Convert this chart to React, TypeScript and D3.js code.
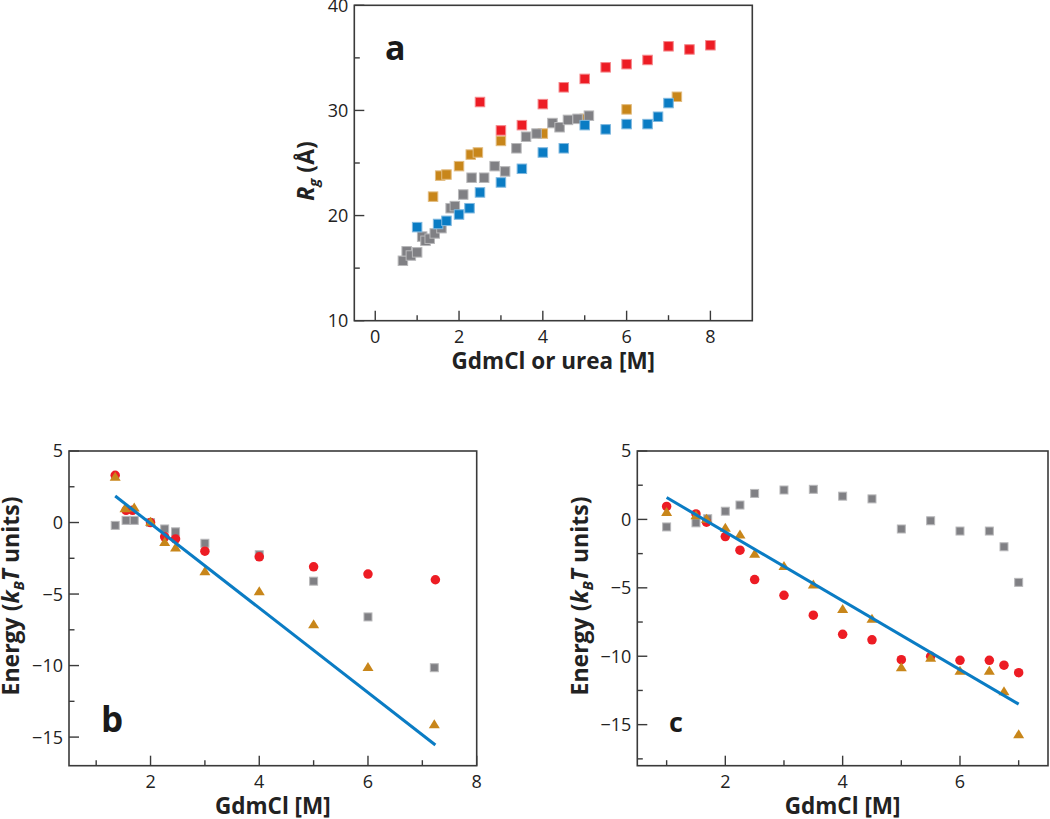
import React from 'react';
import * as d3 from 'd3';

type Pt = [number, number];

// ---------- Panel a: Rg vs denaturant ----------
const aOrange: Pt[] = [[1.38, 21.8], [1.55, 23.8], [1.7, 23.9], [2.0, 24.7], [2.28, 25.8], [2.45, 26.0], [3.0, 27.1], [4.0, 27.8], [5.0, 29.2], [6.0, 30.1], [7.2, 31.3]];
const aGray: Pt[] = [[0.66, 15.7], [0.75, 16.6], [0.85, 16.2], [1.0, 16.5], [1.12, 18.0], [1.2, 17.6], [1.3, 17.8], [1.42, 18.3], [1.58, 18.8], [1.8, 20.7], [1.9, 20.9], [2.1, 22.0], [2.3, 23.6], [2.6, 23.6], [2.85, 24.7], [3.1, 24.2], [3.37, 26.4], [3.6, 27.5], [3.85, 27.8], [4.23, 28.8], [4.4, 28.4], [4.6, 29.1], [4.83, 29.2], [5.1, 29.5]];
const aBlue: Pt[] = [[1.0, 18.9], [1.5, 19.2], [1.7, 19.5], [2.0, 20.1], [2.25, 20.7], [2.5, 22.2], [3.0, 23.15], [3.5, 24.45], [4.0, 26.0], [4.5, 26.4], [5.0, 28.6], [5.5, 28.2], [6.0, 28.7], [6.5, 28.7], [6.75, 29.4], [7.0, 30.7]];
const aRed: Pt[] = [[2.5, 30.8], [3, 28.1], [3.5, 28.6], [4, 30.6], [4.5, 32.2], [5, 33.0], [5.5, 34.1], [6, 34.4], [6.5, 34.8], [7, 36.1], [7.5, 35.8], [8, 36.2]];
const aXMajor = [0, 2, 4, 6, 8];
const aXMinor = [1, 3, 5, 7];
const aYMajor = [10, 20, 30, 40];
const aYMinor = [15, 25, 35];

// ---------- Panel b ----------
const bGray: Pt[] = [[1.35, -0.2], [1.55, 0.15], [1.7, 0.15], [2, 0], [2.26, -0.45], [2.46, -0.65], [3, -1.45], [4, -2.25], [5, -4.1], [6, -6.6], [7.22, -10.15]];
const bRed: Pt[] = [[1.35, 3.3], [1.55, 0.85], [1.67, 0.85], [2, 0], [2.26, -1.0], [2.46, -1.15], [3, -2.0], [4, -2.4], [5, -3.1], [6, -3.6], [7.24, -4.0]];
const bOrange: Pt[] = [[1.35, 3.2], [1.53, 1.0], [1.7, 1.05], [2, 0.05], [2.26, -1.35], [2.46, -1.75], [3, -3.4], [4, -4.8], [5, -7.1], [6, -10.1], [7.22, -14.1]];
const bFit: Pt[] = [[1.35, 1.85], [7.24, -15.55]];
const bXMajor = [2, 4, 6, 8];
const bXMinor = [1, 3, 5, 7];
const bYMajor = [5, 0, -5, -10, -15];
const bYMinor = [2.5, -2.5, -7.5, -12.5];

// ---------- Panel c ----------
const cGray: Pt[] = [[1, -0.55], [1.5, -0.25], [1.7, 0.05], [2, 0.6], [2.25, 1.05], [2.5, 1.9], [3, 2.15], [3.5, 2.2], [4, 1.7], [4.5, 1.5], [5, -0.7], [5.5, -0.1], [6, -0.85], [6.5, -0.85], [6.75, -2.0], [7, -4.6]];
const cRed: Pt[] = [[1, 0.95], [1.5, 0.4], [1.68, -0.2], [2, -1.25], [2.25, -2.25], [2.5, -4.4], [3, -5.55], [3.5, -7.0], [4, -8.4], [4.5, -8.8], [5, -10.25], [5.5, -10.0], [6, -10.3], [6.5, -10.3], [6.75, -10.65], [7, -11.2]];
const cOrange: Pt[] = [[1, 0.55], [1.5, 0.3], [1.68, 0.05], [2, -0.6], [2.25, -1.1], [2.5, -2.5], [3, -3.4], [3.5, -4.75], [4, -6.55], [4.5, -7.25], [5, -10.8], [5.5, -10.1], [6, -11.05], [6.5, -11.05], [6.75, -12.55], [7, -15.7]];
const cFit: Pt[] = [[1, 1.6], [7, -13.5]];
const cXMajor = [2, 4, 6];
const cXMinor = [1, 3, 5, 7];
const cYMajor = [5, 0, -5, -10, -15];
const cYMinor = [2.5, -2.5, -7.5, -12.5, -17.5];

const RED = '#ED1C24';
const ORANGE = '#C8861A';
const GRAY = '#808084';
const BLUE = '#0A7CC4';
const FRAME = '#3a3a3a';
const FONT = '"Open Sans", "DejaVu Sans", sans-serif';

type Series = { data: Pt[]; color: string; edge: string; shape: 'square' | 'circle' | 'triangle'; size: number };

type PanelProps = {
  box: { x0: number; y0: number; x1: number; y1: number };
  xDomain: [number, number];
  yDomain: [number, number];
  xMajor: number[];
  xMinor: number[];
  yMajor: number[];
  yMinor: number[];
  series: Series[];
  fit?: Pt[];
  label: string;
  labelPos: [number, number];
  labelSize: number;
  xTitle: React.ReactNode;
  yTitle: React.ReactNode;
  yTitleX: number;
  yTitleY: number;
};

const fmt = (v: number) => (v < 0 ? '\u2212' + Math.abs(v) : String(v));

function Panel(p: PanelProps) {
  const { box } = p;
  const x = d3.scaleLinear().domain(p.xDomain).range([box.x0, box.x1]);
  const y = d3.scaleLinear().domain(p.yDomain).range([box.y1, box.y0]);
  const line = d3.line<Pt>().x((d) => x(d[0])).y((d) => y(d[1]));
  const majorLen = 10;
  const minorLen = 5.5;
  return (
    <g>
      {p.series.map((s, si) => (
        <g key={si}>
          {s.data.map((d, i) => {
            const cx = x(d[0]);
            const cy = y(d[1]);
            if (s.shape === 'square') {
              return (
                <rect key={i} x={cx - s.size / 2} y={cy - s.size / 2} width={s.size} height={s.size}
                  fill={s.color} stroke={s.edge} strokeWidth={1} />
              );
            }
            if (s.shape === 'circle') {
              return <circle key={i} cx={cx} cy={cy} r={s.size / 2} fill={s.color} />;
            }
            const h = s.size * 0.9;
            const w = s.size / 2 + 0.5;
            return (
              <path key={i} d={`M${cx},${cy - h * 0.55}L${cx + w},${cy + h * 0.45}L${cx - w},${cy + h * 0.45}Z`}
                fill={s.color} />
            );
          })}
        </g>
      ))}
      {p.fit && <path d={line(p.fit) || ''} fill="none" stroke={BLUE} strokeWidth={3} />}
      <rect x={box.x0} y={box.y0} width={box.x1 - box.x0} height={box.y1 - box.y0} fill="none" stroke={FRAME} strokeWidth={1.6} />
      {p.xMajor.map((v) => (
        <g key={'xM' + v}>
          <line x1={x(v)} x2={x(v)} y1={box.y1} y2={box.y1 - majorLen} stroke={FRAME} strokeWidth={1.4} />
          <text x={x(v)} y={box.y1 + 22} textAnchor="middle" fontSize={18} fontFamily={FONT} fill="#222">{fmt(v)}</text>
        </g>
      ))}
      {p.xMinor.map((v) => (
        <line key={'xm' + v} x1={x(v)} x2={x(v)} y1={box.y1} y2={box.y1 - minorLen} stroke={FRAME} strokeWidth={1.4} />
      ))}
      {p.yMajor.map((v) => (
        <g key={'yM' + v}>
          <line x1={box.x0} x2={box.x0 + majorLen} y1={y(v)} y2={y(v)} stroke={FRAME} strokeWidth={1.4} />
          <text x={box.x0 - 6} y={y(v)} dy="0.36em" textAnchor="end" fontSize={18} fontFamily={FONT} fill="#222">{fmt(v)}</text>
        </g>
      ))}
      {p.yMinor.map((v) => (
        <line key={'ym' + v} x1={box.x0} x2={box.x0 + minorLen} y1={y(v)} y2={y(v)} stroke={FRAME} strokeWidth={1.4} />
      ))}
      <text x={(box.x0 + box.x1) / 2} y={box.y1 + 48.5} textAnchor="middle" fontSize={22.5} fontWeight={700} fontFamily={FONT} fill="#222">{p.xTitle}</text>
      <text transform={`translate(${p.yTitleX},${p.yTitleY}) rotate(-90)`} textAnchor="middle" fontSize={23} fontWeight={700} fontFamily={FONT} fill="#222">{p.yTitle}</text>
      <text x={p.labelPos[0]} y={p.labelPos[1]} fontSize={p.labelSize} fontWeight={700} fontFamily={FONT} fill="#1a1a1a">{p.label}</text>
    </g>
  );
}

const energyTitle = (
  <>
    <tspan>Energy (</tspan>
    <tspan fontStyle="italic">k</tspan>
    <tspan fontStyle="italic" fontSize="15" dy="5">B</tspan>
    <tspan fontStyle="italic" dy="-5">T</tspan>
    <tspan> units)</tspan>
  </>
);

export default function App() {
  return (
    <svg width={1050} height={819} style={{ position: 'absolute', left: 0, top: 0, background: '#fff' }}>
      <rect x={0} y={0} width={1050} height={819} fill="#fff" />
      <Panel
        box={{ x0: 354.3, y0: 5.3, x1: 752.3, y1: 320.7 }}
        xDomain={[-0.5, 9]}
        yDomain={[10, 40]}
        xMajor={aXMajor} xMinor={aXMinor} yMajor={aYMajor} yMinor={aYMinor}
        series={[
          { data: aOrange, color: ORANGE, edge: '#E2BC80', shape: 'square', size: 9.5 },
          { data: aGray, color: GRAY, edge: '#B8B8BA', shape: 'square', size: 9.5 },
          { data: aBlue, color: BLUE, edge: '#7FB8DF', shape: 'square', size: 9.5 },
          { data: aRed, color: RED, edge: '#F5888C', shape: 'square', size: 9.5 },
        ]}
        label="a" labelPos={[385, 60]} labelSize={34}
        xTitle="GdmCl or urea [M]"
        yTitle={<><tspan fontStyle="italic">R</tspan><tspan fontStyle="italic" fontSize="15" dy="5">g</tspan><tspan dy="-5"> (Å)</tspan></>}
        yTitleX={314} yTitleY={171}
      />
      <Panel
        box={{ x0: 69, y0: 451, x1: 476.7, y1: 765.7 }}
        xDomain={[0.5, 8]}
        yDomain={[-17, 5]}
        xMajor={bXMajor} xMinor={bXMinor} yMajor={bYMajor} yMinor={bYMinor}
        series={[
          { data: bGray, color: GRAY, edge: '#B8B8BA', shape: 'square', size: 8 },
          { data: bRed, color: RED, edge: RED, shape: 'circle', size: 9.5 },
          { data: bOrange, color: ORANGE, edge: ORANGE, shape: 'triangle', size: 10 },
        ]}
        fit={bFit}
        label="b" labelPos={[101, 731.5]} labelSize={35}
        xTitle="GdmCl [M]"
        yTitle={energyTitle}
        yTitleX={19} yTitleY={596}
      />
      <Panel
        box={{ x0: 637.3, y0: 451, x1: 1048, y1: 765.7 }}
        xDomain={[0.5, 7.5]}
        yDomain={[-18, 5]}
        xMajor={cXMajor} xMinor={cXMinor} yMajor={cYMajor} yMinor={cYMinor}
        series={[
          { data: cGray, color: GRAY, edge: '#B8B8BA', shape: 'square', size: 8 },
          { data: cRed, color: RED, edge: RED, shape: 'circle', size: 9.5 },
          { data: cOrange, color: ORANGE, edge: ORANGE, shape: 'triangle', size: 10 },
        ]}
        fit={cFit}
        label="c" labelPos={[669, 731.5]} labelSize={27}
        xTitle="GdmCl [M]"
        yTitle={energyTitle}
        yTitleX={588} yTitleY={596}
      />
    </svg>
  );
}
